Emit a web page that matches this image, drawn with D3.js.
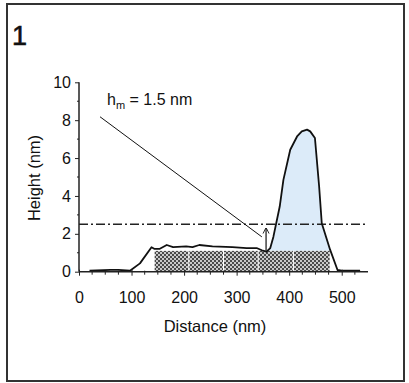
<!DOCTYPE html>
<html>
<head>
<meta charset="utf-8">
<script src="https://cdn.jsdelivr.net/npm/d3@7"></script>
<style>
  body { margin: 0; background: #fff; }
  text { font-family: "Liberation Sans", Arial, sans-serif; fill: #111; }
</style>
</head>
<body>
<div id="chart"></div>
<script>
// profile along the scan (nm, nm)
const profileX = [20, 60, 75, 97, 116, 138, 144, 153, 167, 179, 204, 216, 229, 254, 292, 319, 338, 348, 357,
  364, 370, 382, 389, 402, 415, 424, 434, 440, 449, 457, 462, 478, 492, 500, 535];
const profileY = [0.05, 0.1, 0.1, 0.05, 0.44, 1.29, 1.2, 1.2, 1.41, 1.3, 1.34, 1.3, 1.41, 1.34, 1.3, 1.25, 1.25, 1.13, 1.06,
  1.25, 1.85, 3.44, 4.85, 6.44, 7.14, 7.41, 7.5, 7.41, 7.06, 4.5, 2.56, 1.15, 0.09, 0.05, 0.05];

// hatched blocks along the base layer
const blockEdges = [143, 209, 275, 341, 408, 478];
const blockHeight = 1.1;

const thresholdY = 2.5;
const pointerFrom = [40, 8.18];
const pointerTo = [348, 1.84];
const arrowX = 356;
const arrowRange = [1.1, 2.3];

const xTicks = [0, 100, 200, 300, 400, 500];
const yTicks = [0, 2, 4, 6, 8, 10];

const width = 409, height = 383;

const svg = d3.select('#chart').append('svg')
  .attr('width', width)
  .attr('height', height);

// outer frame
svg.append('rect')
  .attr('x', 7).attr('y', 4)
  .attr('width', 397).attr('height', 377)
  .attr('fill', 'none')
  .attr('stroke', '#333')
  .attr('stroke-width', 2);

svg.append('text')
  .attr('x', 12).attr('y', 45)
  .style('font-size', '27px')
  .style('stroke', '#111')
  .style('stroke-width', 0.6)
  .text('1');

const defs = svg.append('defs');
const pat = defs.append('pattern')
  .attr('id', 'hatch')
  .attr('patternUnits', 'userSpaceOnUse')
  .attr('width', 4).attr('height', 4);
pat.append('rect').attr('width', 4).attr('height', 4).attr('fill', '#4a4a4a');
pat.append('circle').attr('cx', 1).attr('cy', 1).attr('r', 1).attr('fill', '#f4f4f4');
pat.append('circle').attr('cx', 3).attr('cy', 3).attr('r', 1).attr('fill', '#f4f4f4');

defs.append('marker')
  .attr('id', 'head')
  .attr('viewBox', '0 0 10 10')
  .attr('refX', 9).attr('refY', 5)
  .attr('markerWidth', 5).attr('markerHeight', 6)
  .attr('orient', 'auto-start-reverse')
  .append('path')
  .attr('d', 'M0,0 L10,5 L0,10')
  .attr('fill', 'none')
  .attr('stroke', '#111')
  .attr('stroke-width', 1.5);

const x = d3.scaleLinear().domain([0, 550]).range([79, 368]);
const y = d3.scaleLinear().domain([0, 10]).range([271.7, 82.3]);

const pts = profileX.map((d, i) => ({x: d, y: profileY[i]}));

// blue area above the base layer
const peak = pts.filter(d => d.x >= 357 && d.x <= 478);
svg.append('path')
  .datum(peak)
  .attr('fill', '#dcebf9')
  .attr('d', d3.area().x(d => x(d.x)).y0(y(blockHeight)).y1(d => y(d.y)));

// hatched blocks
svg.selectAll('.block')
  .data(d3.pairs(blockEdges))
  .enter().append('rect')
  .attr('class', 'block')
  .attr('x', d => x(d[0]) + 0.5)
  .attr('width', d => x(d[1]) - x(d[0]) - 1)
  .attr('y', y(blockHeight))
  .attr('height', y(0) - y(blockHeight))
  .attr('fill', 'url(#hatch)');

// threshold dash-dot line
svg.append('line')
  .attr('x1', x(0)).attr('x2', x(550))
  .attr('y1', y(thresholdY)).attr('y2', y(thresholdY))
  .attr('stroke', '#222')
  .attr('stroke-width', 1.5)
  .attr('stroke-dasharray', '9,3,2,3');

// profile line
svg.append('path')
  .datum(pts)
  .attr('fill', 'none')
  .attr('stroke', '#111')
  .attr('stroke-width', 1.8)
  .attr('stroke-linejoin', 'round')
  .attr('d', d3.line().x(d => x(d.x)).y(d => y(d.y)));

// pointer and h_m arrow
svg.append('line')
  .attr('x1', x(pointerFrom[0])).attr('y1', y(pointerFrom[1]))
  .attr('x2', x(pointerTo[0])).attr('y2', y(pointerTo[1]))
  .attr('stroke', '#111')
  .attr('stroke-width', 1);

svg.append('line')
  .attr('x1', x(arrowX)).attr('y1', y(arrowRange[0]))
  .attr('x2', x(arrowX)).attr('y2', y(arrowRange[1]))
  .attr('stroke', '#111')
  .attr('stroke-width', 1.2)
  .attr('marker-end', 'url(#head)');

// axes
const xAxis = d3.axisBottom(x).tickValues(xTicks).tickSize(4).tickPadding(16).tickFormat(d3.format('d'));
const gx = svg.append('g')
  .attr('transform', `translate(0,${y(0)})`)
  .call(xAxis);
gx.selectAll('.tick line').attr('y1', -2);
gx.append('g').selectAll('line')
  .data(d3.range(25, 550, 25).filter(d => d % 100 !== 0))
  .enter().append('line')
  .attr('x1', d => x(d)).attr('x2', d => x(d))
  .attr('y1', -1).attr('y2', 3)
  .attr('stroke', '#222');

const yAxis = d3.axisLeft(y).tickValues(yTicks).tickSize(4).tickPadding(4);
const gy = svg.append('g')
  .attr('transform', `translate(${x(0)},0)`)
  .call(yAxis);
gy.append('g').selectAll('line')
  .data([1, 3, 5, 7, 9])
  .enter().append('line')
  .attr('x1', -2).attr('x2', 0)
  .attr('y1', d => y(d)).attr('y2', d => y(d))
  .attr('stroke', '#222');

[gx, gy].forEach(g => {
  g.select('.domain').attr('stroke', '#222').attr('stroke-width', 1.5);
  g.selectAll('.tick line').attr('stroke', '#222');
  g.selectAll('text')
    .style('font-size', '16px')
    .style('font-family', '"Liberation Sans", Arial, sans-serif')
    .attr('fill', '#111');
});
gx.select('.domain').attr('d', `M${x(0)},0H${x(550)}`);
gy.select('.domain').attr('d', `M0,${y(0)}V${y(10)}`);

// titles
svg.append('text')
  .attr('x', 215).attr('y', 332)
  .attr('text-anchor', 'middle')
  .style('font-size', '16.5px')
  .text('Distance (nm)');

svg.append('text')
  .attr('transform', 'translate(40,178) rotate(-90)')
  .attr('text-anchor', 'middle')
  .style('font-size', '16.5px')
  .text('Height (nm)');

const lbl = svg.append('text')
  .attr('x', 107).attr('y', 105)
  .style('font-size', '16px');
lbl.append('tspan').text('h');
lbl.append('tspan').attr('dy', 4).style('font-size', '11px').text('m');
lbl.append('tspan').attr('dy', -4).text(' = 1.5 nm');
</script>
</body>
</html>
